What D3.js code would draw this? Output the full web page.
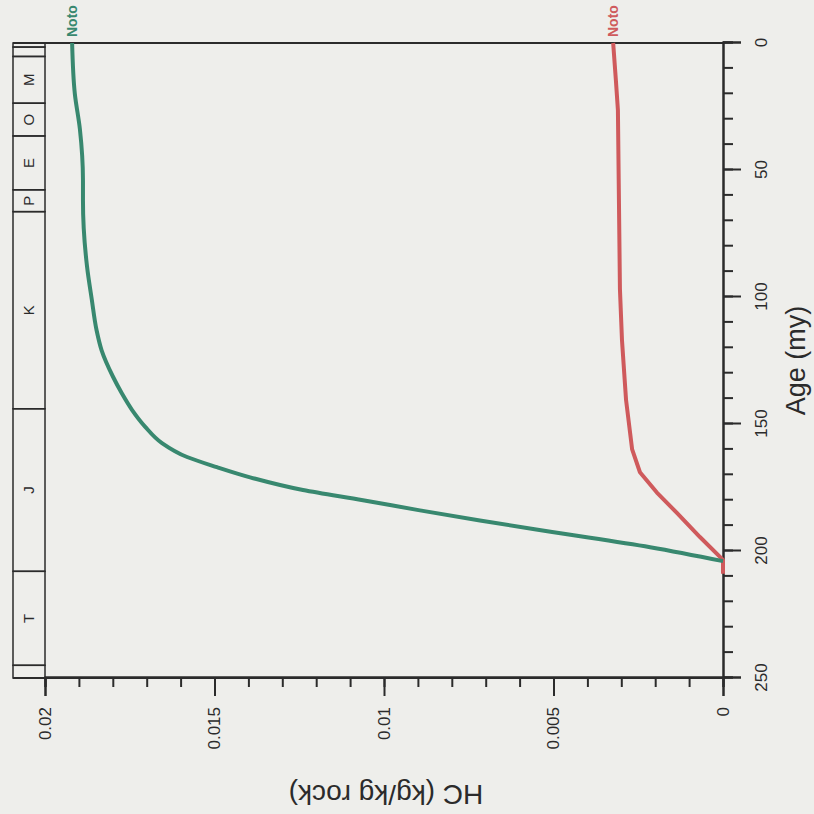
<!DOCTYPE html>
<html>
<head>
<meta charset="utf-8">
<script src="https://cdn.jsdelivr.net/npm/d3@7"></script>
<style>
  body { margin: 0; background: #eeeeeb; }
  svg { display: block; font-family: "Liberation Sans", Arial, sans-serif; }
</style>
</head>
<body>
<div id="chart-area"></div>
<script>
// chart data (ages in my, HC in kg/kg rock)
var greenAge = [0, 20, 34, 54, 62, 88, 101, 113, 121, 131.5, 138, 144.5, 151, 157.5, 163, 167, 171, 176, 180, 184, 188, 192.5, 198.5, 204];
var greenHC = [0.0192, 0.01912, 0.01897, 0.01888, 0.01888, 0.01876, 0.01862, 0.01848, 0.01833, 0.01799, 0.01773, 0.01743, 0.01705, 0.01655, 0.01581, 0.01493, 0.01395, 0.01239, 0.01062, 0.00894, 0.00717, 0.00504, 0.00215, 0];
var redAge = [0, 14.6, 26.4, 97, 117, 140.5, 160, 169, 177, 185, 194.5, 203.5, 209];
var redHC = [0.00324, 0.00316, 0.0031, 0.00304, 0.00298, 0.00286, 0.00268, 0.00245, 0.00195, 0.00136, 0.00068, 0, 0];
var seriesNames = ["Noto", "Noto"];

var periodBounds = [0, 1.6, 5.3, 23.7, 36.6, 57.8, 66.4, 144, 208, 245, 250];
var periodLabels = ["", "", "M", "O", "E", "P", "K", "J", "T", ""];

var ageTicks = [0, 50, 100, 150, 200, 250];
var hcTicks = [0, 0.005, 0.01, 0.015, 0.02];

var W = 635;   // age span (drawn rotated)
var H = 678;   // HC span

var svg = d3.select("#chart-area")
  .append("svg")
    .attr("width", 814)
    .attr("height", 814);

svg.append("rect").attr("width", 814).attr("height", 814).attr("fill", "#eeeeeb");

// the whole plot is turned a quarter turn counter-clockwise
var g = svg.append("g")
  .attr("transform", "translate(45, 678) rotate(-90)");

var x = d3.scaleLinear().domain([250, 0]).range([0, W]);
var y = d3.scaleLinear().domain([0, 0.02]).range([H, 0]);

var ink = "#2b2b2b";

// stratigraphic column above the plot
var col = g.append("g").attr("class", "strat");
for (var i = 0; i < periodLabels.length; i++) {
  var x0 = x(periodBounds[i + 1]), x1 = x(periodBounds[i]);
  col.append("rect")
    .attr("x", x0).attr("y", -32)
    .attr("width", x1 - x0).attr("height", 32)
    .attr("fill", "none").attr("stroke", ink).attr("stroke-width", 1.5);
  if (periodLabels[i]) {
    col.append("text")
      .attr("x", (x0 + x1) / 2).attr("y", -16)
      .attr("dy", "0.35em")
      .attr("text-anchor", "middle")
      .attr("font-size", "15px")
      .attr("fill", ink)
      .text(periodLabels[i]);
  }
}

// frame
g.append("line").attr("x1", W).attr("x2", W).attr("y1", -32).attr("y2", H)
  .attr("stroke", ink).attr("stroke-width", 2);
g.append("line").attr("x1", 0).attr("x2", 0).attr("y1", -32).attr("y2", H)
  .attr("stroke", ink).attr("stroke-width", 2);

// age axis: minor + major
var ageMinor = d3.range(0, 251, 10);
g.append("g")
  .attr("class", "age minor")
  .attr("transform", "translate(0," + H + ")")
  .call(d3.axisBottom(x).tickValues(ageMinor).tickSize(10).tickFormat(""));
g.append("g")
  .attr("class", "age major")
  .attr("transform", "translate(0," + H + ")")
  .call(d3.axisBottom(x).tickValues(ageTicks).tickSize(18).tickPadding(14).tickFormat(d3.format("d")))
  .selectAll("text")
    .attr("font-size", "17px");

// HC axis
var hcMinor = d3.range(0, 0.0205, 0.001);
g.append("g")
  .attr("class", "hc minor")
  .call(d3.axisLeft(y).tickValues(hcMinor).tickSize(9).tickFormat(""));
g.append("g")
  .attr("class", "hc major")
  .call(d3.axisLeft(y).tickValues(hcTicks).tickSize(18).tickPadding(11).tickFormat((d) => { return d === 0 ? "0" : String(+d.toFixed(3)); }))
  .selectAll("text")
    .attr("font-size", "17px");

g.selectAll(".domain").attr("stroke", ink).attr("stroke-width", 2);
g.selectAll(".tick line").attr("stroke", ink).attr("stroke-width", 2);
g.selectAll(".tick text").attr("fill", ink).attr("font-family", "Liberation Sans, Arial, sans-serif");

// axis labels
g.append("text")
  .attr("x", W / 2)
  .attr("y", H + 82)
  .attr("text-anchor", "middle")
  .attr("font-size", "27px")
  .attr("fill", ink)
  .text("Age (my)");

g.append("text")
  .attr("x", -(H / 2) - 2)
  .attr("y", -107)
  .attr("text-anchor", "middle")
  .attr("font-size", "28px")
  .attr("fill", ink)
  .attr("transform", "rotate(-90)")
  .text("HC (kg/kg rock)");

// curves
var series = [
  { age: redAge, hc: redHC, color: "#cf5a5c", curve: d3.curveLinear },
  { age: greenAge, hc: greenHC, color: "#38886f", curve: d3.curveMonotoneX }
];

series.forEach((s, k) => {
  var pts = s.age.map((a, j) => { return [a, s.hc[j]]; }).reverse();
  var line = d3.line()
    .curve(s.curve)
    .x((d) => { return x(d[0]); })
    .y((d) => { return y(d[1]); });
  g.append("path")
    .datum(pts)
    .attr("fill", "none")
    .attr("stroke", s.color)
    .attr("stroke-width", 4)
    .attr("stroke-linejoin", "round")
    .attr("d", line);
  g.append("text")
    .attr("x", W + 6)
    .attr("y", y(s.hc[0]))
    .attr("dy", "0.35em")
    .attr("font-size", "14px")
    .attr("font-weight", "bold")
    .attr("fill", s.color)
    .text(seriesNames[k]);
});
</script>
</body>
</html>
